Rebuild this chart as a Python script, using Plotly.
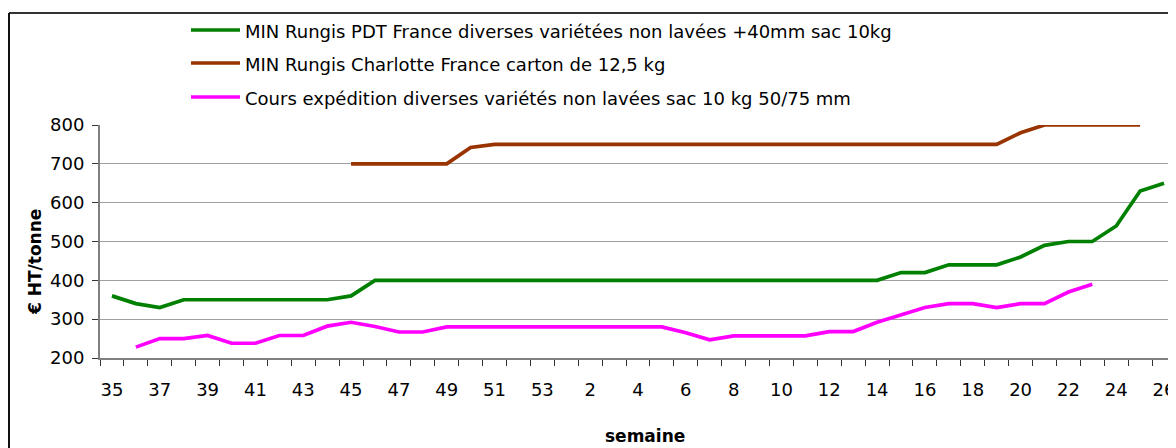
import plotly.graph_objects as go

weeks = [str(w) for w in list(range(35, 54)) + list(range(1, 27))]

green_name = "MIN Rungis PDT France diverses variétées non lavées +40mm sac 10kg"
brown_name = "MIN Rungis Charlotte France carton de 12,5 kg"
pink_name = "Cours expédition diverses variétés non lavées sac 10 kg 50/75 mm"

green = [360, 340, 330, 350, 350, 350, 350, 350, 350, 350, 360, 400, 400, 400, 400, 400, 400, 400, 400,
         400, 400, 400, 400, 400, 400, 400, 400, 400, 400, 400, 400, 400, 400,
         420, 420, 440, 440, 440, 460, 490, 500, 500, 540, 630, 650]

brown = [None] * 10 + [700, 700, 700, 700, 700, 742, 750, 750, 750] + \
        [750] * 19 + [780, 800, 800, 800, 800, 800, None]

pink = [None, 228, 250, 250, 258, 238, 238, 258, 258, 282, 292, 281, 267, 267, 280, 280, 280, 280, 280,
        280, 280, 280, 280, 280, 265, 247, 257, 257, 257, 257, 268, 268, 292,
        312, 330, 340, 340, 330, 340, 340, 370, 390, None, None, None]

tick_labels = weeks[0::2]

xs = list(range(len(weeks)))
series = [(green_name, green, "#008000"), (brown_name, brown, "#993300"), (pink_name, pink, "#FF00FF")]

FONT = "DejaVu Sans"
OFF = 8  # page body margin
W, H = 1176 - OFF, 448 - OFF
L, R, T, B = 100 - OFF, 0, 125 - OFF, 90
pw, ph = W - L - R, H - T - B


def px(x):
    # window pixel x -> paper x
    return (x - OFF - L) / pw


def py(y):
    # window pixel y -> paper y
    return (H - B - (y - OFF)) / ph


fig = go.Figure()
for name, vals, col in series:
    fig.add_trace(go.Scatter(x=xs, y=vals, mode="lines", name=name,
                             line=dict(color=col, width=3.7), showlegend=False))

shapes = []
annotations = []
leg_y = [30, 63, 97]
for (name, vals, col), yy in zip(series, leg_y):
    shapes.append(dict(type="line", xref="paper", yref="paper", x0=px(191), x1=px(240),
                       y0=py(yy), y1=py(yy), line=dict(color=col, width=3.7)))
    annotations.append(dict(xref="paper", yref="paper", x=px(243), y=py(yy + 1), text=name,
                            showarrow=False, xanchor="left", yanchor="middle",
                            font=dict(family=FONT, size=18, color="#000")))

# chart border (top and left edges visible)
shapes.append(dict(type="line", xref="paper", yref="paper", x0=px(9), x1=px(1180),
                   y0=py(13), y1=py(13), line=dict(color="#333", width=2)))
shapes.append(dict(type="line", xref="paper", yref="paper", x0=px(9), x1=px(9),
                   y0=py(13), y1=py(452), line=dict(color="#111", width=2)))

annotations.append(dict(xref="paper", yref="paper", x=px(35), y=py(262), text="<b>€ HT/tonne</b>",
                        showarrow=False, textangle=-90, xanchor="center", yanchor="middle",
                        font=dict(family=FONT, size=17, color="#000")))
annotations.append(dict(xref="paper", yref="paper", x=px(645), y=py(436), text="<b>semaine</b>",
                        showarrow=False, xanchor="center", yanchor="middle",
                        font=dict(family=FONT, size=17, color="#000")))

fig.update_layout(
    width=W, height=H,
    margin=dict(l=L, r=R, t=T, b=B),
    paper_bgcolor="white", plot_bgcolor="white",
    shapes=shapes, annotations=annotations,
    font=dict(family=FONT, size=18, color="#000"),
    xaxis=dict(range=[-0.5, len(weeks) - 0.5], tickmode="array", tickvals=xs[0::2], ticktext=tick_labels,
               ticks="", showgrid=False, zeroline=False, showline=True, linecolor="#808080", linewidth=2,
               ticklabelstandoff=14, tickfont=dict(family=FONT, size=18, color="#000"),
               minor=dict(ticks="outside", ticklen=6, tickcolor="#333", tickwidth=1,
                          tick0=-0.5, dtick=1, showgrid=False)),
    yaxis=dict(range=[200, 800], tickmode="array", tickvals=[200, 300, 400, 500, 600, 700, 800],
               ticks="outside", ticklen=6, tickcolor="#333", tickwidth=1,
               showgrid=True, gridcolor="#a0a0a0", gridwidth=1, zeroline=False,
               showline=True, linecolor="#808080", linewidth=2, ticklabelstandoff=4,
               tickfont=dict(family=FONT, size=18, color="#000")),
)

fig.write_html("out.html")
